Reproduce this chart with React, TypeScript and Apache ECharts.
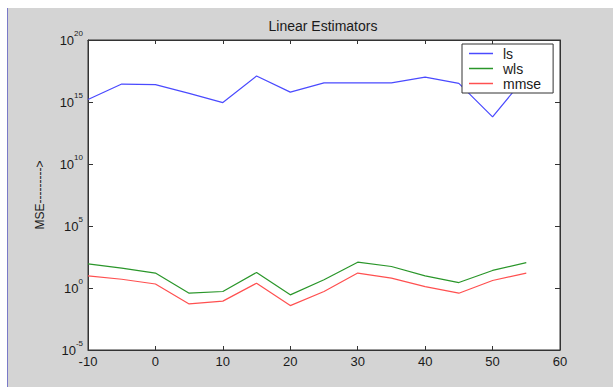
import React, { useEffect, useRef } from "react";
import * as echarts from "echarts";

// Data
const xValues = [-10, -5, 0, 5, 10, 15, 20, 25, 30, 35, 40, 45, 50, 55];
const lsValues = [1.6e15, 2.8e16, 2.5e16, 5e15, 9e14, 1.26e17, 6.3e15, 3.5e16, 3.5e16, 3.5e16, 1e17, 3.2e16, 6.3e13, 1.26e17];
const wlsValues = [87, 40, 16, 0.38, 0.52, 18, 0.28, 4.6, 120, 54, 9.5, 2.75, 26, 112];
const mmseValues = [9.5, 5.1, 2.1, 0.052, 0.087, 2.45, 0.038, 0.52, 16, 6.2, 1.3, 0.38, 4, 16];
const seriesNames = ["ls", "wls", "mmse"];
const seriesColors = ["#4a4aff", "#2a962a", "#ff5050"];
const xMin = -10;
const xMax = 60;
const xStep = 10;
const yExpMin = -5;
const yExpMax = 20;
const yExpStep = 5;
const titleText = "Linear Estimators";
const yLabelText = "MSE--------->";

const FONT = "'Liberation Sans', Arial, sans-serif";
const TEXT = "#1a1a1a";
const AXIS = "#333333";

export default function App() {
  const ref = useRef<HTMLDivElement>(null);

  useEffect(() => {
    if (!ref.current) return;
    const chart = echarts.init(ref.current, undefined, { renderer: "svg" });
    const allValues = [lsValues, wlsValues, mmseValues];
    const series = seriesNames.map((name, i) => ({
      name,
      type: "line",
      xAxisIndex: 0,
      yAxisIndex: 0,
      symbol: "none",
      data: xValues.map((x, j) => [x, Math.log10(allValues[i][j])]),
      lineStyle: { color: seriesColors[i], width: 1.2 },
      itemStyle: { color: seriesColors[i] },
    }));

    const xAxisBase = {
      type: "value",
      min: xMin,
      max: xMax,
      interval: xStep,
      splitLine: { show: false },
      axisLine: { show: true, onZero: false, lineStyle: { color: AXIS, width: 1 } },
      axisTick: { show: true, inside: true, length: 4, lineStyle: { color: AXIS } },
    };
    const yAxisBase = {
      type: "value",
      min: yExpMin,
      max: yExpMax,
      interval: yExpStep,
      splitLine: { show: false },
      axisLine: { show: true, onZero: false, lineStyle: { color: AXIS, width: 1 } },
      axisTick: { show: true, inside: true, length: 5, lineStyle: { color: AXIS } },
    };

    chart.setOption({
      animation: false,
      backgroundColor: "#d4d4d4",
      grid: {
        left: 80,
        right: 53,
        top: 32,
        bottom: 37,
        show: true,
        backgroundColor: "#ffffff",
        borderColor: AXIS,
        borderWidth: 1,
      },
      xAxis: [
        {
          ...xAxisBase,
          position: "bottom",
          axisLabel: { margin: 5, fontSize: 13, color: TEXT, fontFamily: FONT },
        },
        {
          ...xAxisBase,
          position: "top",
          axisLabel: { show: false },
        },
      ],
      yAxis: [
        {
          ...yAxisBase,
          position: "left",
          axisLabel: {
            margin: 5,
            formatter: (v: number) => `{a|10}{b|${v}}`,
            rich: {
              a: { fontSize: 13, lineHeight: 22, color: TEXT, fontFamily: FONT },
              b: { fontSize: 8, lineHeight: 9, verticalAlign: "top", color: TEXT, fontFamily: FONT },
            },
          },
        },
        {
          ...yAxisBase,
          position: "right",
          axisLabel: { show: false },
        },
      ],
      legend: {
        orient: "vertical",
        left: 454,
        top: 36,
        data: seriesNames,
        icon: "rect",
        itemWidth: 24,
        itemHeight: 1.5,
        itemGap: 0,
        padding: [2, 12, 2, 7],
        borderColor: AXIS,
        borderWidth: 1,
        backgroundColor: "#ffffff",
        textStyle: { fontSize: 14, lineHeight: 15, color: TEXT, fontFamily: FONT, padding: [0, 0, 0, 5] },
      },
      graphic: [
        {
          type: "text",
          x: 315,
          y: 18,
          style: {
            text: titleText,
            fontSize: 14,
            fontFamily: FONT,
            fill: TEXT,
            textAlign: "center",
            textVerticalAlign: "middle",
          },
        },
        {
          type: "text",
          x: 32,
          y: 187,
          rotation: Math.PI / 2,
          style: {
            text: yLabelText,
            fontSize: 12,
            fontFamily: FONT,
            fill: TEXT,
            textAlign: "center",
            textVerticalAlign: "middle",
          },
        },
      ],
      series,
    });
    return () => chart.dispose();
  }, []);

  return (
    <div style={{ position: "fixed", left: 0, top: 0, width: 613, height: 387, background: "#ffffff", overflow: "hidden" }}>
      <div style={{ position: "absolute", left: 7, top: 8, width: 1, height: 379, background: "#7a7ac8" }} />
      <div ref={ref} style={{ position: "absolute", left: 8, top: 8, width: 605, height: 379 }} />
    </div>
  );
}
